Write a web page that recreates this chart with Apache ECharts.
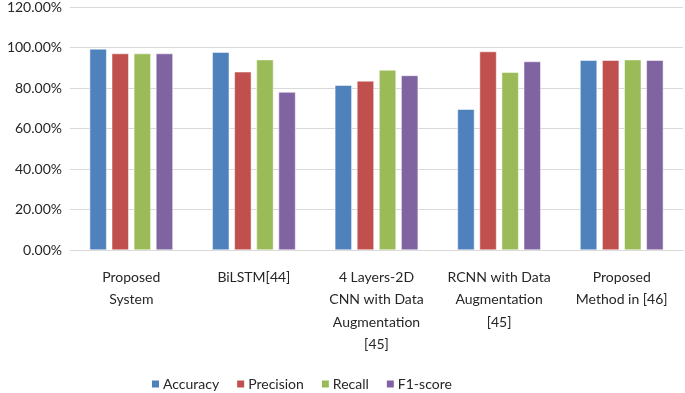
<!DOCTYPE html>
<html>
<head>
<meta charset="utf-8">
<script src="https://cdn.jsdelivr.net/npm/echarts@6/dist/echarts.min.js"></script>
<style>
  html, body { margin: 0; padding: 0; background: #fff; }
  #chart { width: 685px; height: 393px; }
</style>
</head>
<body>
<div id="chart"></div>
<script>
  // categories and series values (percent)
  const categories = [
    'Proposed\nSystem',
    'BiLSTM[44]',
    '4 Layers-2D\nCNN with Data\nAugmentation\n[45]',
    'RCNN with Data\nAugmentation\n[45]',
    'Proposed\nMethod in [46]'
  ]
  const accuracy = [99.3, 97.7, 81.4, 69.5, 93.7]
  const precision = [97.0, 88.0, 83.5, 98.0, 93.7]
  const recall = [97.0, 94.0, 88.9, 87.8, 94.0]
  const f1score = [97.0, 78.0, 86.2, 93.1, 93.7]

  const seriesNames = ['Accuracy', 'Precision', 'Recall', 'F1-score']
  const seriesData = [accuracy, precision, recall, f1score]
  const colors = ['#4F81BD', '#C0504D', '#9BBB59', '#8064A2']

  const font = 'Lato, "Open Sans", sans-serif'

  const chart = echarts.init(document.getElementById('chart'))

  const option = {
    animation: false,
    color: colors,
    textStyle: { fontFamily: font },
    grid: {
      left: 70,
      right: 2,
      top: 7,
      bottom: 143
    },
    legend: {
      left: 145,
      top: 372,
      itemWidth: 9,
      itemHeight: 9,
      itemGap: 16,
      icon: 'rect',
      textStyle: { fontFamily: font, fontSize: 14, color: '#262626', padding: [0, 0, 0, -2] },
      data: seriesNames
    },
    xAxis: {
      type: 'category',
      data: categories,
      axisTick: { show: false },
      axisLine: { lineStyle: { color: '#D9D9D9', width: 1 } },
      axisLabel: {
        interval: 0,
        margin: 16,
        fontFamily: font,
        fontSize: 14,
        lineHeight: 22.5,
        color: '#262626',
        align: 'center'
      }
    },
    yAxis: {
      type: 'value',
      min: 0,
      max: 120,
      interval: 20,
      axisLine: { show: false },
      axisTick: { show: false },
      splitLine: { lineStyle: { color: '#D9D9D9', width: 1 } },
      axisLabel: {
        fontFamily: font,
        fontSize: 14,
        color: '#262626',
        margin: 8,
        formatter: v => v.toFixed(2) + '%'
      }
    },
    series: seriesData.map((d, i) => ({
      name: seriesNames[i],
      type: 'bar',
      data: d,
      barWidth: 17,
      barGap: '30%',
      itemStyle: { color: colors[i], borderColor: '#ffffff', borderWidth: 0.5 }
    }))
  }

  chart.setOption(option)
</script>
</body>
</html>
